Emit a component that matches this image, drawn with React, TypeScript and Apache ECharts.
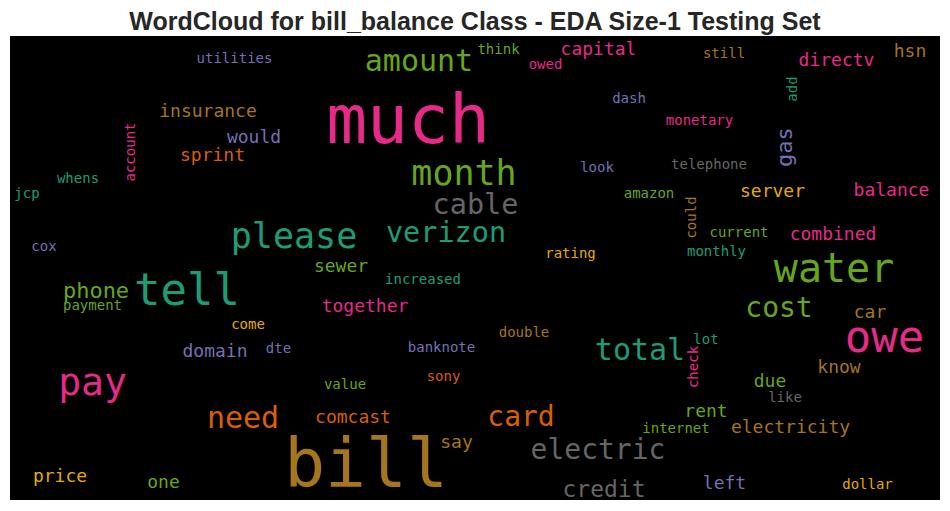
import React, { useEffect, useRef } from "react";
import * as echarts from "echarts";

const TITLE = "WordCloud for bill_balance Class - EDA Size-1 Testing Set";

// Dark2 colormap: 0 teal, 1 orange, 2 purple, 3 pink, 4 green, 5 yellow, 6 brown, 7 gray
const PALETTE = ["#1b9e77", "#d95f02", "#7570b3", "#e7298a", "#66a61e", "#e6ab02", "#a6761d", "#666666"];

const words = [
  "utilities", "insurance", "would", "sprint", "whens", "jcp", "cox", "please",
  "amount", "think", "capital", "owed", "dash", "much", "month", "look",
  "cable", "verizon", "rating", "sewer", "still", "hsn", "directv", "monetary",
  "telephone", "amazon", "server", "balance", "current", "combined", "monthly", "water",
  "cost", "car", "owe", "total", "lot", "know", "due", "like",
  "rent", "internet", "electricity", "electric", "left", "dollar", "credit", "increased",
  "together", "double", "banknote", "sony", "value", "comcast", "card", "say",
  "bill", "phone", "tell", "payment", "come", "domain", "dte", "pay",
  "need", "price", "one", "account", "add", "gas", "could", "check",
];

// horizontal words: centre x and baseline y; vertical words: baseline x and centre y (page pixels)
const wordX = [
  234.5, 208, 254, 212.5, 78, 27, 44, 294,
  419, 498.5, 598.5, 545.5, 629, 408, 464, 597,
  475.5, 446, 570.5, 341, 724, 910, 836.5, 699.5,
  709, 649, 772.5, 891.5, 739, 833, 716.5, 834,
  779, 870, 884.5, 640, 706, 839, 770, 785,
  706, 676, 790.5, 598, 724.5, 867.5, 604, 423,
  365, 524, 441.5, 443.5, 345, 353, 521, 456.5,
  366, 96, 187, 92.5, 248, 215, 278.5, 92.5,
  243, 60, 163.5, 135, 797, 792, 696, 698,
];

const wordY = [
  63, 117, 143, 161, 183, 198, 251, 248,
  70.7, 54, 55, 69, 103, 143, 185, 171.7,
  214, 242, 258, 271.7, 58, 56.7, 66, 125,
  169, 198, 197, 196, 237, 240, 256, 281.7,
  317, 318, 351.7, 360, 344, 373, 387, 402,
  417, 433, 433, 459, 489, 489, 497, 284,
  312, 337, 352, 381, 389, 423, 426, 448,
  487, 298, 305, 310, 329, 357, 353, 395,
  428, 482, 488, 152, 89, 147, 217.5, 367,
];

const fontSizes = [
  14, 18, 18, 18, 14, 14, 14, 35,
  30, 14, 18, 14, 14, 68, 35, 14,
  28.5, 28.5, 14, 18, 14, 18, 18, 14,
  14, 14, 18, 18, 14, 18, 14, 40,
  28, 18, 44, 30, 14, 18, 18, 14,
  18, 14, 18, 28, 18, 14, 23, 14,
  18, 14, 14, 14, 14, 18, 28, 18,
  68, 22, 44, 14, 14, 18, 14, 38,
  30, 18, 18, 14, 14, 22, 14, 14,
];

const colorIndex = [
  2, 6, 2, 1, 0, 0, 2, 0,
  4, 4, 3, 3, 2, 3, 4, 2,
  7, 0, 5, 4, 6, 6, 3, 3,
  7, 4, 5, 3, 4, 3, 0, 4,
  4, 6, 3, 0, 0, 6, 4, 7,
  4, 4, 6, 7, 2, 5, 7, 0,
  3, 6, 2, 1, 4, 1, 1, 6,
  6, 4, 0, 4, 5, 2, 2, 3,
  1, 5, 4, 3, 0, 2, 6, 3,
];

const verticalWords = ["account", "add", "gas", "could", "check"];

const K = 0.346;

export default function App() {
  const ref = useRef<HTMLDivElement>(null);
  useEffect(() => {
    document.body.style.margin = "0";
    const chart = echarts.init(ref.current!, undefined, { renderer: "svg" });
    const data = words.map((w, i) => {
      const rot = verticalWords.includes(w);
      const fs = fontSizes[i];
      const x = rot ? wordX[i] - K * fs : wordX[i];
      const y = rot ? wordY[i] : wordY[i] - K * fs;
      return {
        name: w,
        value: [x, y],
        label: { fontSize: fs, color: PALETTE[colorIndex[i]], rotate: rot ? 90 : 0 },
      };
    });
    chart.setOption({
      animation: false,
      backgroundColor: "#fff",
      title: {
        text: TITLE,
        left: "center",
        top: 3,
        textStyle: {
          fontFamily: "'Liberation Sans', Arial, sans-serif",
          fontWeight: "bold",
          fontSize: 25,
          color: "#262626",
        },
      },
      grid: { left: 10, top: 36, width: 930, height: 464, show: true, backgroundColor: "#000", borderWidth: 0 },
      xAxis: { type: "value", min: 10, max: 940, show: false },
      yAxis: { type: "value", min: 36, max: 500, inverse: true, show: false },
      series: [
        {
          type: "scatter",
          silent: true,
          clip: false,
          symbolSize: 1,
          itemStyle: { color: "rgba(0,0,0,0)", opacity: 1 },
          label: {
            show: true,
            position: "inside",
            formatter: "{b}",
            fontFamily: "'DejaVu Sans Mono', monospace",
            align: "center",
            verticalAlign: "middle",
          },
          emphasis: { disabled: true },
          data,
        },
      ],
    });
    return () => chart.dispose();
  }, []);
  return <div ref={ref} style={{ width: 950, height: 511 }} />;
}
